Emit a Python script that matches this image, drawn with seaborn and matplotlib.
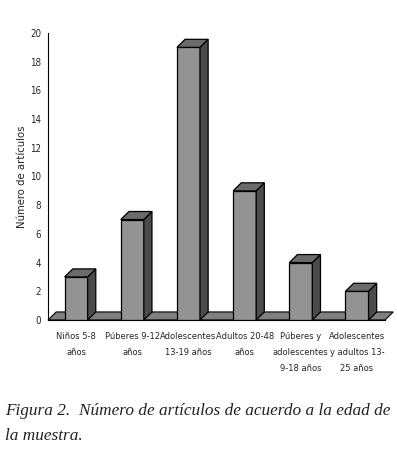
import numpy as np
import pandas as pd
import seaborn as sns
import matplotlib.pyplot as plt
from matplotlib.patches import Polygon

# Data
categories = [
    "Niños 5-8\naños",
    "Púberes 9-12\naños",
    "Adolescentes\n13-19 años",
    "Adultos 20-48\naños",
    "Púberes y\nadolescentes\n9-18 años",
    "Adolescentes\ny adultos 13-\n25 años",
]
counts = [3, 7, 19, 9, 4, 2]
y_ticks = list(range(0, 21, 2))

FRONT = "#939393"
SIDE = "#4b4b4b"
TOP = "#6b6b6b"
FLOOR = "#808080"
DX, DY = 0.145, 0.56  # fake 3D depth in data units

sns.set_style("white")
plt.rcParams["font.family"] = ["DejaVu Sans"]
plt.rcParams["font.stretch"] = "condensed"

df = pd.DataFrame({"cat": categories, "n": counts})

fig = plt.figure(figsize=(3.97, 4.57), dpi=100)
ax = fig.add_axes([0.121, 0.2998, 0.849, 0.628])

sns.barplot(data=df, x="cat", y="n", color=FRONT, saturation=1, width=0.41,
            edgecolor="black", linewidth=0.9, ax=ax, zorder=3)

n = len(categories)
# floor slab
floor = Polygon([(-0.5, 0), (n - 0.5, 0), (n - 0.5 + DX, DY), (-0.5 + DX, DY)],
                closed=True, facecolor=FLOOR, edgecolor="black", lw=0.8,
                zorder=2, clip_on=False)
ax.add_patch(floor)

# side and top faces for each bar
for p in ax.patches[:n]:
    x0 = p.get_x()
    w = p.get_width()
    h = p.get_height()
    x1 = x0 + w
    side = Polygon([(x1, 0), (x1 + DX, DY), (x1 + DX, h + DY), (x1, h)],
                   closed=True, facecolor=SIDE, edgecolor="black", lw=0.9,
                   zorder=3, clip_on=False)
    top = Polygon([(x0, h), (x1, h), (x1 + DX, h + DY), (x0 + DX, h + DY)],
                  closed=True, facecolor=TOP, edgecolor="black", lw=0.9,
                  zorder=3, clip_on=False)
    ax.add_patch(side)
    ax.add_patch(top)

ax.set_xlim(-0.5, n - 0.5)
ax.set_ylim(0, 20)
ax.set_yticks(y_ticks)
ax.set_yticklabels([str(t) for t in y_ticks], fontsize=7)
ax.set_xticks(np.arange(n))
ax.set_xticklabels(categories, fontsize=6.7, linespacing=1.95, va="top")
ax.set_xticks(np.arange(-0.5, n), minor=True)
ax.tick_params(axis="x", which="major", length=0, pad=9)
ax.tick_params(axis="x", which="minor", length=5, width=0.8, color="black",
               direction="out")
ax.tick_params(axis="y", length=3, width=0.8, color="black", direction="out",
               pad=2)
ax.set_xlabel("")
ax.set_ylabel("Número de artículos", fontsize=7.3, fontstretch="normal",
              color="#222222", labelpad=2)

for s in ["top", "right"]:
    ax.spines[s].set_visible(False)
for s in ["left", "bottom"]:
    ax.spines[s].set_color("black")
    ax.spines[s].set_linewidth(0.8)

fig.text(0.013, 0.028, "Figura 2.  Número de artículos de acuerdo a la edad de\nla muestra.",
         family="Liberation Serif", style="italic", fontstretch="normal",
         fontsize=12.4, linespacing=1.75, va="bottom", ha="left", color="#222222")

fig.savefig("out.png", dpi=100)
